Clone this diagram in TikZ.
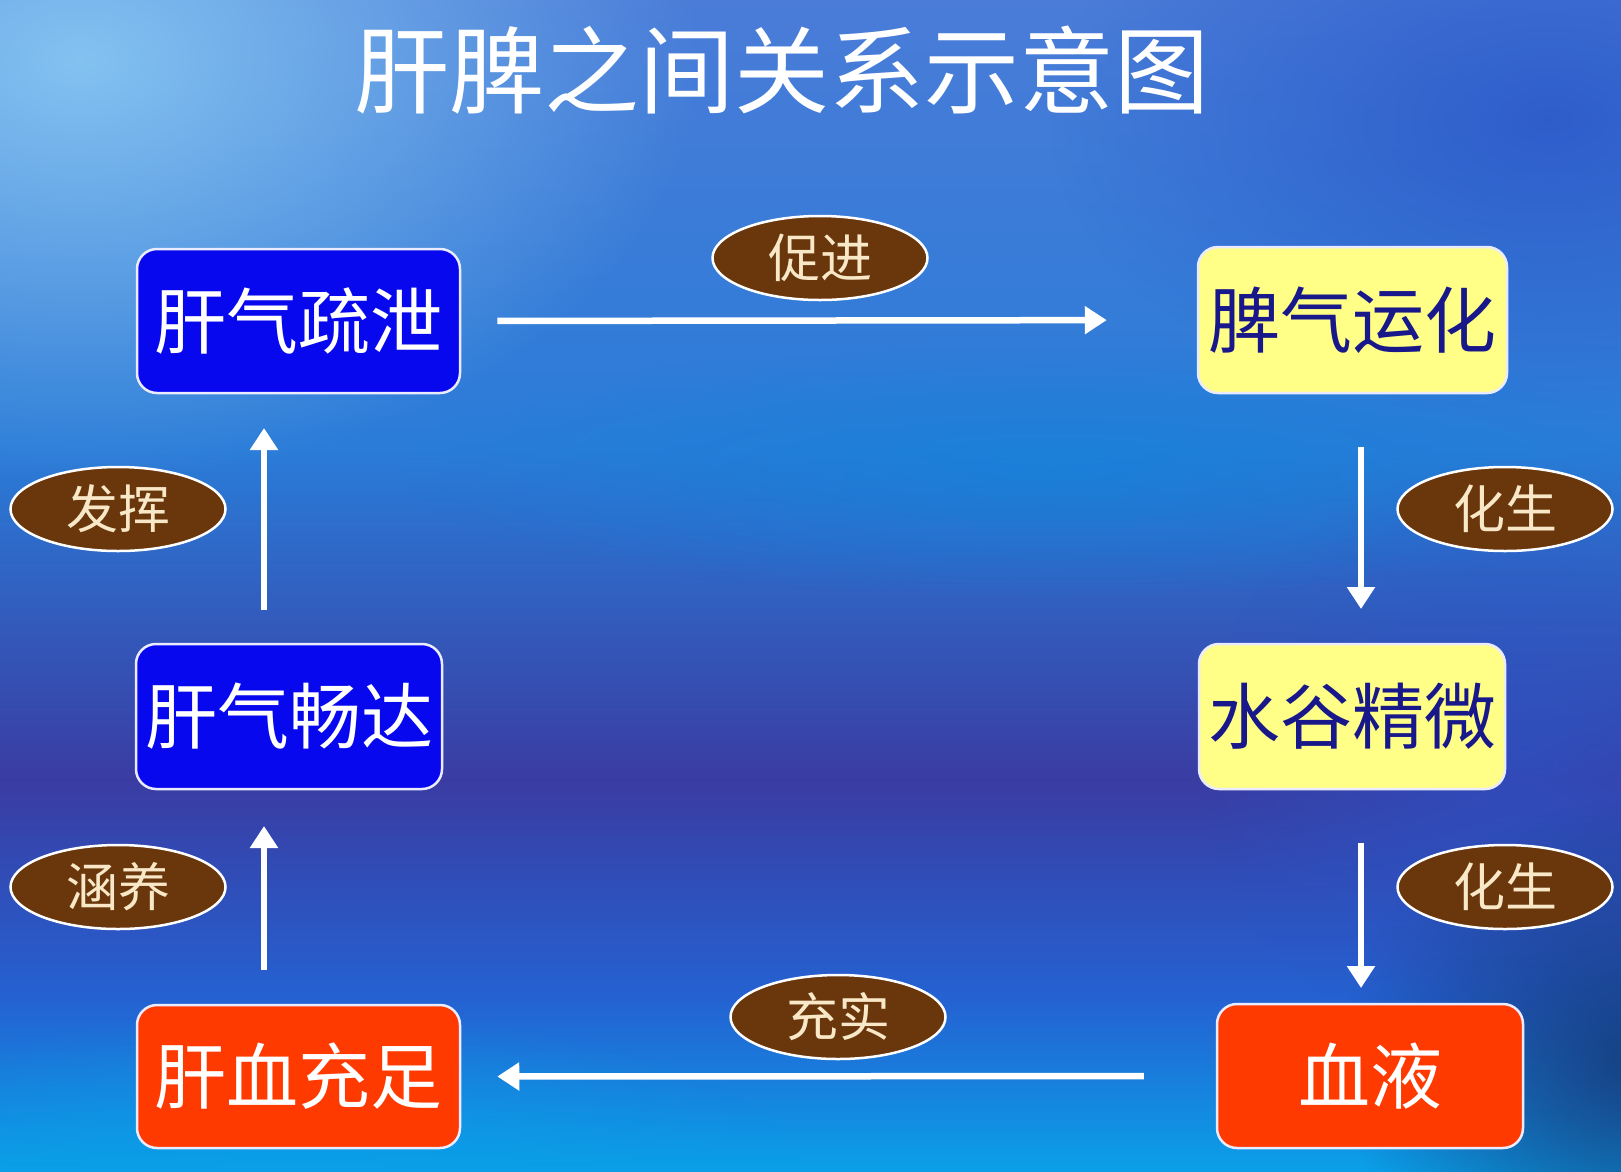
\documentclass[tikz,border=0pt]{standalone}
\usepackage{fontspec}
\setmainfont{Noto Sans CJK SC}
\usetikzlibrary{arrows.meta,shapes.geometric,fadings,shadings}
\tikzfading[name=softblob, inner color=transparent!0, outer color=transparent!100]
\definecolor{cTop}{HTML}{4A7CD8}
\definecolor{cA}{HTML}{2A7CD8}
\definecolor{cB}{HTML}{3A3CA2}
\definecolor{cC}{HTML}{2462D2}
\definecolor{cBot}{HTML}{0AA0E8}
\pgfdeclareverticalshading{bgv}{100bp}{color(0bp)=(cBot); color(25bp)=(cBot); color(32.3bp)=(cC); color(41.7bp)=(cB); color(55.8bp)=(cA); color(75bp)=(cTop); color(100bp)=(cTop)}
\definecolor{lightTL}{HTML}{86C6F2}
\definecolor{navyBR}{HTML}{163A78}
\definecolor{rightblue}{HTML}{2A56C8}
\definecolor{cyanband}{HTML}{1482DA}
\definecolor{boxblue}{HTML}{0808EE}
\definecolor{boxyellow}{HTML}{FFFF88}
\definecolor{boxred}{HTML}{FF3A00}
\definecolor{ovbrown}{HTML}{6A360C}
\definecolor{ovtext}{HTML}{F8E8C8}
\definecolor{navytext}{HTML}{18188A}
\begin{document}
\begin{tikzpicture}[x=1pt,y=-1pt,
  stepbox/.style={draw=white!92!blue, line width=2.5pt, rounded corners=20pt, inner sep=0pt, font=\fontsize{72}{72}\selectfont},
  bluebox/.style={stepbox, fill=boxblue, text=white},
  yellowbox/.style={stepbox, fill=boxyellow, text=navytext},
  redbox/.style={stepbox, fill=boxred, text=white},
  tag/.style={ellipse, draw=white, line width=2.5pt, fill=ovbrown, text=ovtext, inner sep=0pt, minimum width=215pt, minimum height=84pt, font=\fontsize{52}{52}\selectfont},
  arr/.style={draw=white, line width=6.5pt, -{Triangle[length=22pt,width=27pt]}}
]
\useasboundingbox (0,0) rectangle (1621,1171);
% background
\shade[shading=bgv] (0,0) rectangle (1621,1171);
\fill[lightTL, path fading=softblob, fill opacity=0.95] (80,60) ellipse (620 and 420);
\fill[cyanband, path fading=softblob, fill opacity=0.7] (1050,470) ellipse (650 and 130);
\fill[rightblue, path fading=softblob, fill opacity=0.8] (1550,120) ellipse (500 and 300);
\fill[rightblue, path fading=softblob, fill opacity=0.6] (1520,760) ellipse (320 and 300);
\fill[navyBR, path fading=softblob, fill opacity=0.9] (1640,1060) ellipse (300 and 260);
\fill[cBot, path fading=softblob, fill opacity=0.6] (300,1171) ellipse (500 and 160);
% title
\node[text=white, font=\fontsize{95}{95}\selectfont] (title) at (782,70) {肝脾之间关系示意图};
% boxes
\node[bluebox, minimum width=323pt, minimum height=144pt] (b1) at (298.5,321) {肝气疏泄};
\node[yellowbox, minimum width=309pt, minimum height=146pt] (b2) at (1352.5,320) {脾气运化};
\node[bluebox, minimum width=306pt, minimum height=145pt] (b3) at (289,716.5) {肝气畅达};
\node[yellowbox, minimum width=306pt, minimum height=145pt] (b4) at (1352,716.5) {水谷精微};
\node[redbox, minimum width=323pt, minimum height=143pt] (b5) at (298.5,1076.5) {肝血充足};
\node[redbox, minimum width=306pt, minimum height=144pt] (b6) at (1370,1076) {血液};
% tags
\node[tag] (t1) at (820,258) {促进};
\node[tag] (t2) at (118,509) {发挥};
\node[tag] (t3) at (1505,509) {化生};
\node[tag] (t4) at (118,887) {涵养};
\node[tag] (t5) at (1505,887) {化生};
\node[tag] (t6) at (838,1017) {充实};
% arrow end points
\coordinate (l1s) at (264,610);
\coordinate (l1e) at (264,428);
\coordinate (l2s) at (264,970);
\coordinate (l2e) at (264,826);
\coordinate (r1s) at (1361,447);
\coordinate (r1e) at (1361,609);
\coordinate (r2s) at (1361,843);
\coordinate (r2e) at (1361,988);
% connectors
\draw[arr, shorten <=36pt, shorten >=90pt] (b1.east) -- (b2.west);
\draw[arr] (l1s) -- (l1e);
\draw[arr] (l2s) -- (l2e);
\draw[arr] (r1s) -- (r1e);
\draw[arr] (r2s) -- (r2e);
\draw[arr, shorten <=72pt, shorten >=36pt] (b6.west) -- (b5.east);
\end{tikzpicture}
\end{document}
